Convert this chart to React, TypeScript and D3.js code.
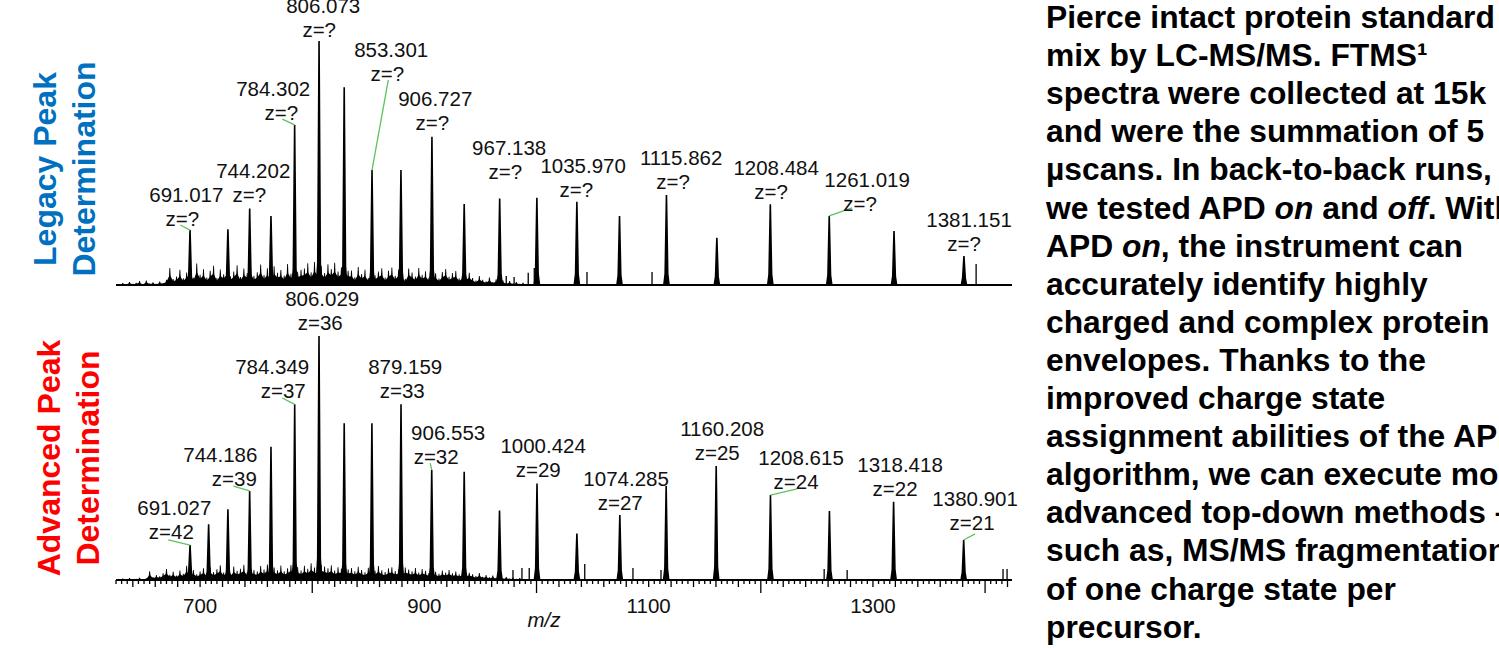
import React, { useEffect, useRef } from 'react';
import * as d3 from 'd3';

// m/z axis
const mzDomain = [625, 1424];
const tickLabels = [700, 900, 1100, 1300];

// legacy peak determination: [m/z, relative intensity %]
const legacyPeaks: [number, number][] = [
  [691.017, 22.5], [724.8, 22.8], [744.202, 31.4], [763.2, 28.3], [784.302, 65.6],
  [806.073, 100], [828.5, 81.0], [853.301, 47.1], [879.1, 47.1], [906.727, 60.8],
  [935.5, 33.2], [967.138, 35.5], [1000.3, 35.8], [1035.97, 34.1], [1074.0, 28.3],
  [1115.862, 36.9], [1160.8, 19.4], [1208.484, 33.1], [1261.019, 28.3], [1318.8, 22.1],
  [1381.151, 11.9],
];
const legacyMinor: [number, number][] = [
  [973, 3.7], [980, 3.3], [992.6, 5.0], [998, 7.0], [1045, 5.3], [1103, 5.3], [1392, 8.6],
];
// noise floor, one value every 3 m/z from 628
const noiseStart = 628;
const noiseStep = 3;
const legacyNoise = [
  0.4, 0.8, 0.3, 1.2, 0.5, 0.9, 1.6, 0.4, 1.8, 0.6, 1.1, 0.5, 1.4, 0.8,
  2.2, 7.0, 2.5,
  3.5, 6.2, 2.8, 5.1, 7.4, 3.0, 8.8, 4.2, 6.5, 3.1, 5.8, 7.9, 2.9, 6.4, 4.4, 7.2, 3.6, 5.5, 8.1, 3.3,
  6.8, 4.9, 7.5, 3.8, 5.2, 8.4, 4.1, 6.9, 3.4, 7.7, 5.0, 6.1, 3.9, 8.6, 4.6, 7.0, 5.4, 6.3,
  6.8, 8.9, 5.2, 9.4, 6.1, 7.8, 4.9, 8.5, 6.6, 9.1, 5.5, 7.3, 8.0, 5.8,
  5.9, 3.2, 7.4, 4.5, 6.2, 2.9, 7.8, 4.0, 5.5, 6.9, 3.1, 5.8, 7.2, 3.8, 6.4, 4.7, 2.6, 6.8,
  5.1, 3.5, 7.0, 4.2, 5.6, 3.0, 6.1, 4.8, 2.7, 5.3, 6.6, 3.4, 4.9, 5.7, 2.8, 4.4, 3.6, 5.0,
  2.9, 1.8, 3.7, 2.2, 1.5, 3.1, 1.2, 2.4, 1.0, 1.9, 0.8, 1.6, 0.6, 1.2, 0.5, 0.9,
];

// advanced peak determination
const advancedPeaks: [number, number][] = [
  [691.027, 14.3], [707.6, 22.8], [724.8, 29.0], [744.186, 36.5], [763.2, 54.6],
  [784.349, 72.0], [806.029, 100], [828.5, 64.2], [853.2, 64.2], [879.159, 72.0],
  [906.553, 45.1], [935.5, 44.4], [967.0, 28.5], [1000.424, 39.6], [1036.0, 19.1],
  [1074.285, 26.6], [1115.6, 38.5], [1160.208, 46.7], [1208.615, 34.8], [1261.2, 28.3],
  [1318.418, 32.1], [1380.901, 16.4],
];
const advancedMinor: [number, number][] = [
  [979, 4.1], [987, 4.9], [993.5, 4.9], [1043, 6.6], [1086, 4.9], [1111, 4.1],
  [1256.5, 4.5], [1277, 4.1], [1416, 4.5], [1419.6, 4.5],
];
const advancedNoise = [
  0.3, 0.6, 0.2, 0.8, 0.4, 0.5, 0.9, 0.3, 0.7,
  3.6, 1.2, 2.0, 1.5, 2.8, 4.5, 2.2, 3.4, 1.8, 3.9, 2.6, 5.8, 3.0, 4.1, 2.4, 3.5,
  4.8, 2.9, 5.2, 3.3, 4.4, 6.0, 3.1, 4.9, 2.7, 5.5, 3.8, 4.6, 6.2, 3.2, 5.0,
  4.1, 3.5, 5.7, 4.3, 6.4, 3.7, 5.1, 4.0, 5.9, 3.6, 4.8, 6.1, 4.4, 5.3, 3.9,
  5.8, 4.6, 6.9, 5.1, 4.2, 6.3, 5.5, 4.8, 6.0, 3.9, 5.2, 4.7, 5.9, 4.4,
  4.9, 3.6, 5.4, 4.1, 3.2, 5.0, 4.6, 3.8, 5.7, 4.0, 3.3, 4.8, 5.2, 3.7, 4.4, 3.0, 5.1, 4.3,
  3.6, 4.9, 3.1, 4.5, 3.8, 2.9, 4.2, 3.4, 2.6, 3.9, 3.1, 4.1, 2.8, 3.5, 2.4, 3.2, 2.7, 3.0,
  2.4, 1.6, 2.9, 1.3, 2.0, 1.1, 1.8, 0.9, 1.4, 0.7, 1.2, 0.6, 0.9, 0.5, 0.8, 0.4,
];

// peak annotations: text, charge, m/z of line centres, intensity of the z line, optional leader start
type Label = { mz: string; z: string; at: number; zAt: number; lvl: number; lead?: [number, number] };
const legacyLabels: Label[] = [
  { mz: '691.017', z: 'z=?', at: 687.7, zAt: 684.1, lvl: 24.2, lead: [682.3, 24.6] },
  { mz: '744.202', z: 'z=?', at: 747.4, zAt: 743.8, lvl: 34.0 },
  { mz: '784.302', z: 'z=?', at: 765.2, zAt: 772.4, lvl: 67.6, lead: [773.3, 68.0] },
  { mz: '806.073', z: 'z=?', at: 809.8, zAt: 806.2, lvl: 101.6 },
  { mz: '853.301', z: 'z=?', at: 870.4, zAt: 866.9, lvl: 83.6, lead: [867.8, 84.0] },
  { mz: '906.727', z: 'z=?', at: 909.7, zAt: 907.0, lvl: 63.5 },
  { mz: '967.138', z: 'z=?', at: 975.6, zAt: 972.1, lvl: 43.4 },
  { mz: '1035.970', z: 'z=?', at: 1041.6, zAt: 1035.4, lvl: 36.1 },
  { mz: '1115.862', z: 'z=?', at: 1129.0, zAt: 1121.8, lvl: 39.3 },
  { mz: '1208.484', z: 'z=?', at: 1213.7, zAt: 1209.2, lvl: 35.2 },
  { mz: '1261.019', z: 'z=?', at: 1294.8, zAt: 1288.5, lvl: 30.3, lead: [1281.4, 31.6] },
  { mz: '1381.151', z: 'z=?', at: 1385.7, zAt: 1381.3, lvl: 13.9 },
];
const advancedLabels: Label[] = [
  { mz: '691.027', z: 'z=42', at: 677.0, zAt: 674.3, lvl: 16.8, lead: [671.6, 16.4] },
  { mz: '744.186', z: 'z=39', at: 718.0, zAt: 730.5, lvl: 38.5, lead: [729.6, 38.5] },
  { mz: '784.349', z: 'z=37', at: 764.3, zAt: 774.1, lvl: 74.6, lead: [773.3, 74.6] },
  { mz: '806.029', z: 'z=36', at: 808.9, zAt: 807.1, lvl: 102.5 },
  { mz: '879.159', z: 'z=33', at: 882.9, zAt: 880.2, lvl: 74.6 },
  { mz: '906.553', z: 'z=32', at: 921.2, zAt: 910.5, lvl: 47.5, lead: [905.2, 47.9] },
  { mz: '1000.424', z: 'z=29', at: 1005.9, zAt: 1001.5, lvl: 42.2 },
  { mz: '1074.285', z: 'z=27', at: 1079.9, zAt: 1074.6, lvl: 28.7 },
  { mz: '1160.208', z: 'z=25', at: 1165.5, zAt: 1161.1, lvl: 49.2 },
  { mz: '1208.615', z: 'z=24', at: 1235.9, zAt: 1231.5, lvl: 37.3, lead: [1232.4, 37.3] },
  { mz: '1318.418', z: 'z=22', at: 1324.2, zAt: 1319.7, lvl: 34.4 },
  { mz: '1380.901', z: 'z=21', at: 1391.1, zAt: 1388.4, lvl: 20.5, lead: [1391.1, 18.9] },
];

// side text, segments: [text, style]
const paragraph: [string, string?][][] = [
  [['Pierce intact protein standard']],
  [['mix by LC-MS/MS. FTMS\u00b9']],
  [['spectra were collected at 15k']],
  [['and were the summation of 5']],
  [['\u00b5scans. In back-to-back runs,']],
  [['we tested APD '], ['on', 'i'], [' and '], ['off', 'i'], ['. With']],
  [['APD '], ['on', 'i'], [', the instrument can']],
  [['accurately identify highly']],
  [['charged and complex protein']],
  [['envelopes. Thanks to the']],
  [['improved charge state']],
  [['assignment abilities of the APD']],
  [['algorithm, we can execute more']],
  [['advanced top-down methods \u2013']],
  [['such as, MS/MS fragmentation']],
  [['of one charge state per']],
  [['precursor.']],
];

const FONT = '"Liberation Sans", Arial, Helvetica, sans-serif';

export default function App() {
  const ref = useRef<SVGSVGElement>(null);

  useEffect(() => {
    const svg = d3.select(ref.current);
    svg.selectAll('*').remove();

    const left = 116, right = 1012, peakH = 244;
    const x = d3.scaleLinear().domain(mzDomain).range([left, right]);

    const panels = [
      { base: 285, peaks: legacyPeaks, minor: legacyMinor, noise: legacyNoise, labels: legacyLabels,
        title: ['Legacy Peak', 'Determination'], color: '#0070c0', ty: 169, tx: [56, 95] },
      { base: 580, peaks: advancedPeaks, minor: advancedMinor, noise: advancedNoise, labels: advancedLabels,
        title: ['Advanced Peak', 'Determination'], color: '#ff0000', ty: 458, tx: [60, 99] },
    ];

    const line = d3.line();

    panels.forEach(p => {
      const y = d3.scaleLinear().domain([0, 100]).range([p.base, p.base - peakH]);
      const g = svg.append('g');

      // noise floor: dense lower band plus a hairline spike per reading
      const area = d3.area<number>()
        .x((d, i) => x(noiseStart + i * noiseStep))
        .y0(p.base)
        .y1(d => y(d * 0.6));
      g.append('path').datum(p.noise).attr('d', area).attr('fill', '#000');

      g.selectAll('.noise').data(p.noise).enter().append('path')
        .attr('d', (d, i) => {
          const cx = x(noiseStart + i * noiseStep), top = y(d);
          return line([[cx - 1.3, p.base], [cx - 0.4, top], [cx + 0.4, top], [cx + 1.3, p.base]]);
        })
        .attr('fill', '#000');

      // small sticks
      g.selectAll('.minor').data(p.minor).enter().append('line')
        .attr('x1', d => x(d[0])).attr('x2', d => x(d[0]))
        .attr('y1', p.base).attr('y2', d => y(d[1]))
        .attr('stroke', '#000').attr('stroke-width', 1.3);

      // peaks
      g.selectAll('.peak').data(p.peaks).enter().append('path')
        .attr('d', d => {
          const cx = x(d[0]), top = y(d[1]);
          const foot = p.base - Math.min(22, 5 + (p.base - top) * 0.07);
          return line([[cx - 3.4, p.base], [cx - 2.1, foot], [cx - 0.8, top], [cx + 0.8, top],
            [cx + 2.1, foot], [cx + 3.4, p.base]]);
        })
        .attr('fill', '#000');

      // baseline
      g.append('line')
        .attr('x1', left).attr('x2', right).attr('y1', p.base).attr('y2', p.base)
        .attr('stroke', '#000').attr('stroke-width', 2.2);

      // leaders
      p.labels.filter(l => l.lead).forEach(l => {
        const target = p.peaks.reduce((a, b) =>
          Math.abs(b[0] - parseFloat(l.mz)) < Math.abs(a[0] - parseFloat(l.mz)) ? b : a);
        g.append('line')
          .attr('x1', x(l.lead![0])).attr('y1', y(l.lead![1]))
          .attr('x2', x(target[0])).attr('y2', y(target[1]))
          .attr('stroke', '#5cc35c').attr('stroke-width', 1.3);
      });

      // labels
      const lab = g.selectAll('.lab').data(p.labels).enter().append('g');
      lab.append('text')
        .attr('x', d => x(d.at)).attr('y', d => y(d.lvl) - 24)
        .attr('text-anchor', 'middle').attr('font-family', FONT).attr('font-size', 20.5)
        .attr('fill', '#111').text(d => d.mz);
      lab.append('text')
        .attr('x', d => x(d.zAt)).attr('y', d => y(d.lvl))
        .attr('text-anchor', 'middle').attr('font-family', FONT).attr('font-size', 20.5)
        .attr('fill', '#111').text(d => d.z);

      // panel title
      p.title.forEach((t, i) => {
        svg.append('text')
          .attr('transform', `translate(${p.tx[i]},${p.ty}) rotate(-90)`)
          .attr('text-anchor', 'middle').attr('font-family', FONT).attr('font-weight', 'bold')
          .attr('font-size', 32).attr('fill', p.color).text(t);
      });
    });

    // bottom m/z axis ticks
    const base = 580;
    const ticks = d3.range(625, 1425, 5);
    svg.append('g').selectAll('line').data(ticks).enter().append('line')
      .attr('x1', d => x(d)).attr('x2', d => x(d))
      .attr('y1', base)
      .attr('y2', d => base + (d % 200 === 0 ? 13 : d % 20 === 0 ? 7 : 4))
      .attr('stroke', '#000').attr('stroke-width', 1.3);

    svg.append('g').selectAll('text').data(tickLabels).enter().append('text')
      .attr('x', d => x(d)).attr('y', 613)
      .attr('text-anchor', 'middle').attr('font-family', FONT).attr('font-size', 20.5)
      .attr('fill', '#111').text(d => d);

    svg.append('text')
      .attr('x', 544).attr('y', 627).attr('text-anchor', 'middle')
      .attr('font-family', FONT).attr('font-size', 20.5).attr('font-style', 'italic')
      .attr('fill', '#111').text('m/z');

    // description
    const para = svg.append('g');
    paragraph.forEach((segs, i) => {
      const t = para.append('text')
        .attr('x', 1046).attr('y', 28 + i * 38.1)
        .attr('font-family', FONT).attr('font-weight', 'bold').attr('font-size', 31.8)
        .attr('fill', '#000');
      segs.forEach(s => {
        t.append('tspan').attr('font-style', s[1] === 'i' ? 'italic' : 'normal').text(s[0]);
      });
    });
  }, []);

  return (
    <svg ref={ref} width={1499} height={648}
      style={{ position: 'absolute', left: 0, top: 0, background: '#fff', overflow: 'hidden' }} />
  );
}
